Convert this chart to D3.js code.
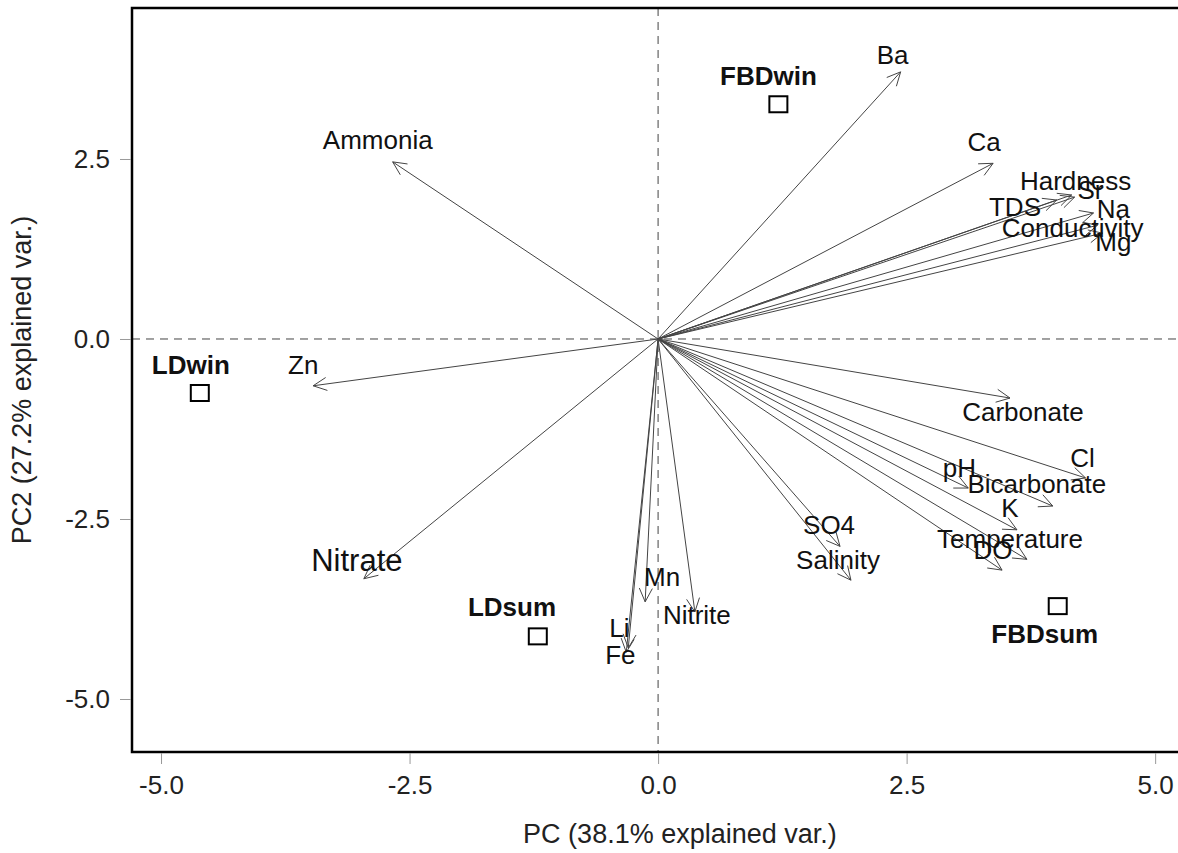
<!DOCTYPE html>
<html lang="en">
<head>
    <meta charset="UTF-8">
    <title>PCA biplot</title>
    <script src="https://d3js.org/d3.v7.min.js"></script>
    <style>
        body { margin: 0; background: #fff; }
        text { font-family: "Liberation Sans", Arial, sans-serif; }
    </style>
</head>
<body>
    <svg width="1178" height="853" id="grafico"></svg>
    <script>

        // variables (loadings) - arrow tips
        var varNames = ["Ba", "Ammonia", "Ca", "Hardness", "Sr", "TDS", "Na", "Conductivity", "Mg",
            "Zn", "Carbonate", "Cl", "pH", "Bicarbonate", "K", "Temperature", "DO",
            "SO4", "Salinity", "Nitrate", "Mn", "Nitrite", "Li", "Fe"];
        var varX = [2.44, -2.67, 3.37, 4.16, 4.19, 4.01, 4.38, 4.42, 4.47,
            -3.47, 3.54, 4.30, 3.12, 3.97, 3.61, 3.71, 3.46,
            1.83, 1.94, -2.96, -0.13, 0.37, -0.30, -0.32];
        var varY = [3.71, 2.46, 2.44, 2.00, 1.97, 1.93, 1.75, 1.58, 1.47,
            -0.65, -0.82, -1.93, -2.07, -2.32, -2.65, -3.06, -3.21,
            -2.88, -3.35, -3.33, -3.65, -3.79, -4.29, -4.35];
        // where the variable names sit
        var labX = [2.36, -2.82, 3.28, 4.20, 4.35, 3.59, 4.58, 4.17, 4.58,
            -3.57, 3.67, 4.27, 3.03, 3.81, 3.54, 3.54, 3.37,
            1.72, 1.81, -3.03, 0.04, 0.39, -0.39, -0.38];
        var labY = [3.94, 2.76, 2.73, 2.19, 2.07, 1.83, 1.81, 1.54, 1.35,
            -0.36, -1.01, -1.65, -1.79, -2.01, -2.35, -2.78, -2.93,
            -2.58, -3.07, -3.07, -3.31, -3.84, -4.01, -4.39];

        // samples (scores)
        var sampleNames = ["FBDwin", "LDwin", "LDsum", "FBDsum"];
        var sampleX = [1.21, -4.61, -1.21, 4.02];
        var sampleY = [3.26, -0.75, -4.13, -3.71];
        var sampleLabX = [1.11, -4.70, -1.47, 3.89];
        var sampleLabY = [3.65, -0.36, -3.72, -4.10];

        var ticks = [-5, -2.5, 0, 2.5, 5];

        var svg = d3.select("svg"),
            margin = { top: 8, right: -2, bottom: 101, left: 132 },
            width = +svg.attr("width") - margin.left - margin.right,
            height = +svg.attr("height") - margin.top - margin.bottom;

        var x = d3.scaleLinear().domain([-5.292, 5.25]).range([0, width]);
        var y = d3.scaleLinear().domain([-5.736, 4.597]).range([height, 0]);

        var g = svg.append("g")
            .attr("transform", "translate(" + margin.left + "," + margin.top + ")");

        // dashed zero lines
        g.append("line")
            .attr("x1", x(0)).attr("x2", x(0))
            .attr("y1", 0).attr("y2", height)
            .attr("stroke", "#444").attr("stroke-width", 1)
            .attr("stroke-dasharray", "8,6");
        g.append("line")
            .attr("x1", 0).attr("x2", width)
            .attr("y1", y(0)).attr("y2", y(0))
            .attr("stroke", "#444").attr("stroke-width", 1)
            .attr("stroke-dasharray", "8,6");

        // arrows
        var headLen = 15, headAng = Math.PI / 7;
        varNames.forEach(function (name, i) {
            var x0 = x(0), y0 = y(0), x1 = x(varX[i]), y1 = y(varY[i]);
            var a = Math.atan2(y1 - y0, x1 - x0);
            g.append("line")
                .attr("x1", x0).attr("y1", y0).attr("x2", x1).attr("y2", y1)
                .attr("stroke", "#444").attr("stroke-width", 1);
            var p = "M" + (x1 - headLen * Math.cos(a - headAng)) + "," + (y1 - headLen * Math.sin(a - headAng)) +
                "L" + x1 + "," + y1 +
                "L" + (x1 - headLen * Math.cos(a + headAng)) + "," + (y1 - headLen * Math.sin(a + headAng));
            g.append("path").attr("d", p)
                .attr("fill", "none").attr("stroke", "#444").attr("stroke-width", 1);
        });

        // variable labels
        g.selectAll(".varlab")
            .data(varNames)
            .enter().append("text")
            .attr("class", "varlab")
            .attr("x", function (d, i) { return x(labX[i]); })
            .attr("y", function (d, i) { return y(labY[i]); })
            .attr("text-anchor", "middle")
            .attr("dominant-baseline", "central")
            .attr("font-size", function (d) { return d == "Nitrate" ? 31 : 26; })
            .attr("fill", "#111")
            .text(function (d) { return d; });

        // sample squares
        g.selectAll(".sample")
            .data(sampleNames)
            .enter().append("rect")
            .attr("class", "sample")
            .attr("x", function (d, i) { return x(sampleX[i]) - 9; })
            .attr("y", function (d, i) { return y(sampleY[i]) - 8; })
            .attr("width", 18).attr("height", 16)
            .attr("fill", "none").attr("stroke", "#000").attr("stroke-width", 2);

        g.selectAll(".samplab")
            .data(sampleNames)
            .enter().append("text")
            .attr("class", "samplab")
            .attr("x", function (d, i) { return x(sampleLabX[i]); })
            .attr("y", function (d, i) { return y(sampleLabY[i]); })
            .attr("text-anchor", "middle")
            .attr("dominant-baseline", "central")
            .attr("font-size", 26).attr("font-weight", "bold")
            .attr("fill", "#111")
            .text(function (d) { return d; });

        // box
        g.append("rect")
            .attr("x", 0).attr("y", 0).attr("width", width).attr("height", height)
            .attr("fill", "none").attr("stroke", "#000").attr("stroke-width", 2.5);

        // axes
        var fmt = function (d) { return d3.format(".1f")(d).replace("−", "-"); };
        var xAxis = g.append("g")
            .attr("transform", "translate(0," + (height + 1) + ")")
            .call(d3.axisBottom(x).tickValues(ticks).tickFormat(fmt).tickSize(11).tickPadding(12));
        var yAxis = g.append("g")
            .attr("transform", "translate(-1,0)")
            .call(d3.axisLeft(y).tickValues(ticks).tickFormat(fmt).tickSize(11).tickPadding(10));
        [xAxis, yAxis].forEach(function (ax) {
            ax.select(".domain").remove();
            ax.selectAll(".tick line").attr("stroke", "#999");
            ax.selectAll(".tick text")
                .attr("font-size", 26)
                .attr("font-family", "Liberation Sans, Arial, sans-serif")
                .attr("fill", "#222");
        });

        // axis titles
        svg.append("text")
            .attr("x", margin.left + x(0.22))
            .attr("y", 843)
            .attr("text-anchor", "middle")
            .attr("font-size", 27)
            .attr("fill", "#222")
            .text("PC (38.1% explained var.)");
        svg.append("text")
            .attr("transform", "translate(31," + (margin.top + height / 2) + ") rotate(-90)")
            .attr("text-anchor", "middle")
            .attr("font-size", 27)
            .attr("fill", "#222")
            .text("PC2 (27.2% explained var.)");

    </script>
</body>
</html>
